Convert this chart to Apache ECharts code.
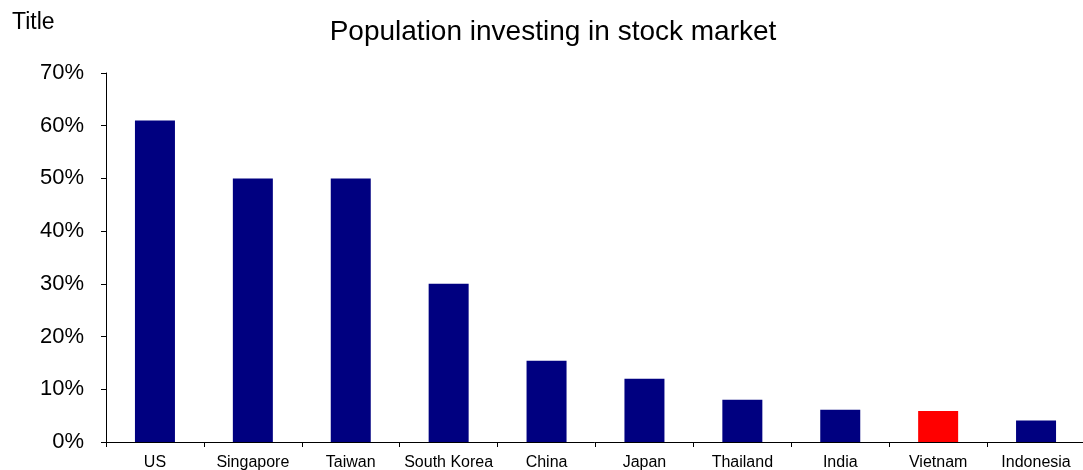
<!DOCTYPE html>
<html>
<head>
<meta charset="utf-8">
<style>
  html, body { margin: 0; padding: 0; background: #ffffff; }
  #chart { width: 1083px; height: 470px; }
</style>
<script src="https://cdn.jsdelivr.net/npm/echarts@6/dist/echarts.min.js"></script>
</head>
<body>
<div id="chart"></div>
<script>
// Share of population investing in the stock market, by country (%)
const countries = ['US', 'Singapore', 'Taiwan', 'South Korea', 'China', 'Japan', 'Thailand', 'India', 'Vietnam', 'Indonesia'];
const sharePct = [61, 50, 50, 30, 15.4, 12, 8, 6.1, 5.9, 4.1];
const highlighted = 'Vietnam';
const yTicks = { min: 0, max: 70, step: 10 };

const FONT = '"Liberation Sans", Arial, sans-serif';
const NAVY = '#000080';
const RED = '#ff0000';

const chart = echarts.init(document.getElementById('chart'), null, { renderer: 'canvas' });

chart.setOption({
  backgroundColor: '#ffffff',
  animation: false,
  textStyle: { fontFamily: FONT },
  graphic: [
    {
      type: 'text', left: 12, top: 11,
      style: { text: 'Title', font: '23px ' + FONT, fill: '#000000' }
    },
    {
      type: 'text', x: 553, y: 32,
      style: {
        text: 'Population investing in stock market',
        font: '28px ' + FONT, fill: '#000000',
        align: 'center', verticalAlign: 'middle'
      }
    }
  ],
  grid: { left: 106, right: -2, top: 73, bottom: 28, containLabel: false, outerBoundsMode: 'none' },
  xAxis: {
    type: 'category',
    data: countries,
    boundaryGap: true,
    axisLine: { show: true, lineStyle: { color: '#000000', width: 1 } },
    axisTick: { show: true, alignWithLabel: false, length: 5, lineStyle: { color: '#000000' } },
    axisLabel: { color: '#000000', fontSize: 16, fontFamily: FONT, margin: 13, interval: 0 },
    splitLine: { show: false }
  },
  yAxis: {
    type: 'value',
    min: yTicks.min, max: yTicks.max, interval: yTicks.step,
    axisLine: { show: true, lineStyle: { color: '#000000', width: 1 } },
    axisTick: { show: true, inside: false, length: 5, lineStyle: { color: '#000000' } },
    axisLabel: { color: '#000000', fontSize: 22, fontFamily: FONT, margin: 22, formatter: '{value}%' },
    splitLine: { show: false }
  },
  series: [{
    type: 'bar',
    barWidth: 40,
    data: sharePct.map((v, i) => ({
      value: v,
      itemStyle: { color: countries[i] === highlighted ? RED : NAVY }
    }))
  }]
});
</script>
</body>
</html>
